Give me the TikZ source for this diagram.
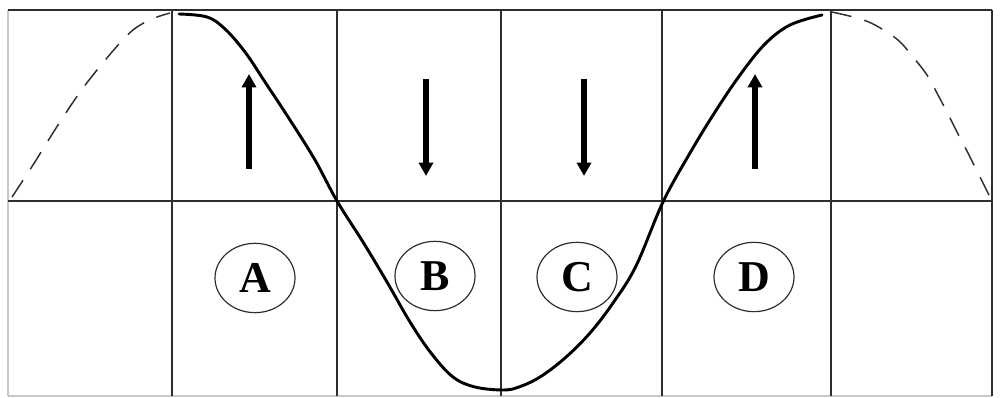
\documentclass[tikz,border=0pt]{standalone}
\usepackage{fontspec}
\setmainfont{Liberation Serif}
\usetikzlibrary{arrows.meta,shapes.geometric}
\definecolor{gridc}{HTML}{2E2E2E}
\definecolor{edgec}{HTML}{C8C8C8}
\tikzset{
  gridline/.style={draw=gridc,line width=1.5pt},
  edgeline/.style={draw=edgec,line width=1.5pt},
  wave/.style={draw=black,line width=2.2pt,line cap=round,line join=round},
  wavedash/.style={draw=gridc,line width=1.1pt,dash pattern=on 15pt off 10pt},
  forcearrow/.style={draw=black,line width=4pt,-{Triangle[width=10.5pt,length=10pt]}},
  labelring/.style={ellipse,draw=gridc,line width=0.9pt,minimum width=60pt,minimum height=52pt,inner sep=0pt,font=\fontsize{33}{33}\selectfont\bfseries}
}
\begin{document}
\begin{tikzpicture}[x=0.75pt,y=-0.75pt]
\useasboundingbox (0,0) rectangle (1001,398);
% frame edges
\draw[edgeline] (8,10) -- (8,396);
\draw[edgeline] (8,396) -- (992,396);
% grid
\draw[gridline] (8,10) -- (992,10);
\draw[gridline] (8,201) -- (992,201);
\foreach \xx in {172,337,501,662,831,992}
  \draw[gridline] (\xx,10) -- (\xx,396);
% wave
\draw[wave] plot[smooth,tension=0.6] coordinates {
  (179,14) (207,17) (225,29) (245,52) (265,82) (290,120) (315,160) (337,201)
  (363,242) (387,282) (410,322) (431,353) (453,377) (475,387) (503,390) (519,387)
  (540,377) (565,358) (590,333) (613,303) (636,266) (663,202)
  (690,153) (715,112) (740,75) (765,44) (790,25) (822,15)};
\draw[wavedash] plot[smooth,tension=0.55] coordinates {
  (12,197) (33,165) (58,125) (83,88) (112,52) (133,30) (152,19) (170,13)};
\draw[wavedash] plot[smooth,tension=0.55] coordinates {
  (832,12) (857,18) (875,25) (898,40) (913,57) (927,75) (938,95) (948,114) (958,134) (968,153) (978,173) (990,197)};
% arrows
\coordinate (a1) at (249,169); \coordinate (a2) at (249,74);
\coordinate (b1) at (426,79);  \coordinate (b2) at (426,176);
\coordinate (c1) at (584,79);  \coordinate (c2) at (584,176);
\coordinate (d1) at (755,169); \coordinate (d2) at (755,74);
\draw[forcearrow] (a1) -- (a2);
\draw[forcearrow] (b1) -- (b2);
\draw[forcearrow] (c1) -- (c2);
\draw[forcearrow] (d1) -- (d2);
% labels
\node[labelring] (A) at (255,278) {A};
\node[labelring] (B) at (435,276) {B};
\node[labelring] (C) at (577,277) {C};
\node[labelring] (D) at (754,277) {D};
\end{tikzpicture}
\end{document}
